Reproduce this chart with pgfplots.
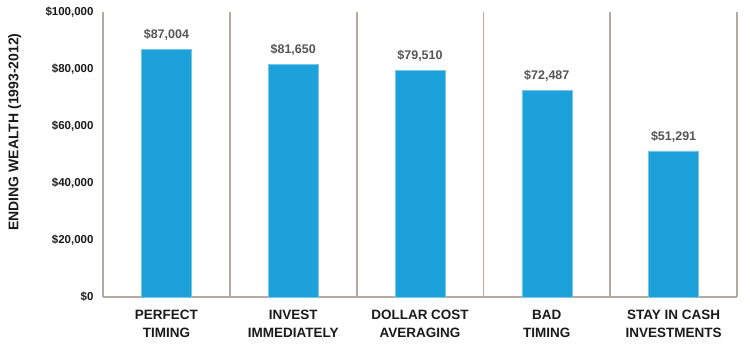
\documentclass[border=0pt]{standalone}
\usepackage{fontspec}
\setmainfont{Liberation Sans}
\usepackage{pgfplots}
\pgfplotsset{compat=1.18}
\definecolor{barblue}{HTML}{1DA1DB}
\definecolor{sepcol}{HTML}{B3AAA1}
\definecolor{valgray}{HTML}{555555}
\definecolor{txt}{HTML}{1A1A1A}
\begin{document}
\begin{tikzpicture}
\begin{axis}[
  name=ax,
  scale only axis,
  width=634pt, height=285pt,
  xmin=-0.5, xmax=4.5,
  ymin=0, ymax=100000,
  scaled y ticks=false,
  axis line style={draw=none},
  major tick length=0pt, minor tick length=0pt,
  xtick={0,1,2,3,4},
  xticklabels={{PERFECT\\TIMING},{INVEST\\IMMEDIATELY},{DOLLAR COST\\AVERAGING},{BAD\\TIMING},{STAY IN CASH\\INVESTMENTS}},
  xticklabel style={align=center, font=\fontsize{13.5}{17.5}\selectfont\bfseries, text=txt, yshift=-10pt},
  minor xtick={-0.5,0.5,1.5,2.5,3.5,4.5},
  xminorgrids,
  minor grid style={draw=sepcol, line width=1.8pt},
  ytick={0,20000,40000,60000,80000,100000},
  yticklabels={{\$0},{\$20,000},{\$40,000},{\$60,000},{\$80,000},{\$100,000}},
  yticklabel style={font=\fontsize{11.5}{13}\selectfont\bfseries, text=txt, xshift=-6pt},
  extra y ticks={0},
  extra y tick labels={},
  extra y tick style={grid=major, major grid style={draw=sepcol, line width=1.8pt}},
  ylabel={ENDING WEALTH (1993-2012)},
  ylabel style={font=\fontsize{14}{16}\selectfont\bfseries, text=txt, at={(axis description cs:-0.139,0.579)}, anchor=center},
  point meta=explicit symbolic,
  nodes near coords,
  nodes near coords style={font=\fontsize{12.5}{14}\selectfont\bfseries, text=valgray, yshift=5pt},
  clip=false,
]
\addplot[ybar, bar width=50pt, fill=barblue, draw=barblue!60!white, line width=0.5pt, bar shift=0pt]
  coordinates {(0,87004) [\$87,004] (1,81650) [\$81,650] (2,79510) [\$79,510] (3,72487) [\$72,487] (4,51291) [\$51,291]};
\end{axis}
\pgfresetboundingbox
\path[use as bounding box] ([shift={(-103pt,-59pt)}]ax.south west) rectangle ([shift={(13pt,12pt)}]ax.north east);
\end{tikzpicture}
\end{document}
